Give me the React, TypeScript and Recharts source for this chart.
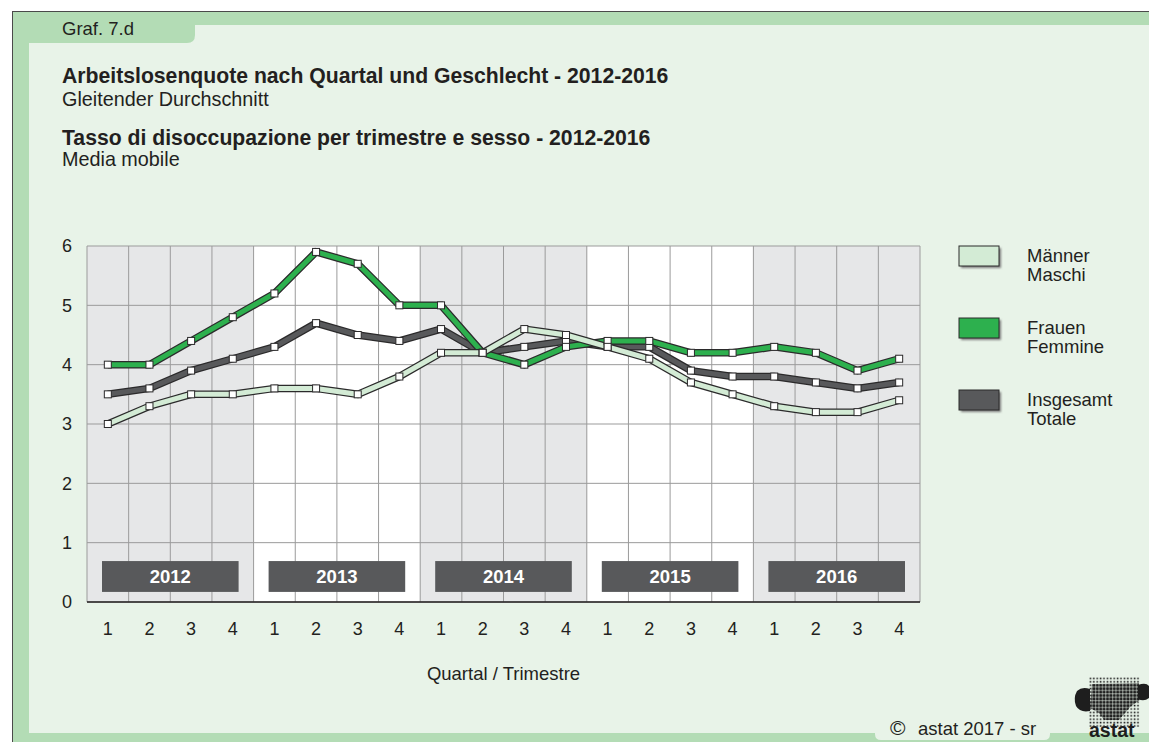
import React from 'react';
import { LineChart, Line, XAxis, YAxis, CartesianGrid, ReferenceArea, Legend } from 'recharts';

// ---------- data ----------
const quarterLabels = ['1', '2', '3', '4', '1', '2', '3', '4', '1', '2', '3', '4', '1', '2', '3', '4', '1', '2', '3', '4'];
const years = ['2012', '2013', '2014', '2015', '2016'];
const maenner = [3.0, 3.3, 3.5, 3.5, 3.6, 3.6, 3.5, 3.8, 4.2, 4.2, 4.6, 4.5, 4.3, 4.1, 3.7, 3.5, 3.3, 3.2, 3.2, 3.4];
const frauen = [4.0, 4.0, 4.4, 4.8, 5.2, 5.9, 5.7, 5.0, 5.0, 4.2, 4.0, 4.3, 4.4, 4.4, 4.2, 4.2, 4.3, 4.2, 3.9, 4.1];
const insgesamt = [3.5, 3.6, 3.9, 4.1, 4.3, 4.7, 4.5, 4.4, 4.6, 4.2, 4.3, 4.4, 4.3, 4.3, 3.9, 3.8, 3.8, 3.7, 3.6, 3.7];
const yTicks = [0, 1, 2, 3, 4, 5, 6];

const titleDe = 'Arbeitslosenquote nach Quartal und Geschlecht - 2012-2016';
const subtitleDe = 'Gleitender Durchschnitt';
const titleIt = 'Tasso di disoccupazione per trimestre e sesso - 2012-2016';
const subtitleIt = 'Media mobile';
const xAxisTitle = 'Quartal / Trimestre';

// ---------- styles ----------
const FONT = '"Liberation Sans", Arial, Helvetica, sans-serif';
const TEXT = '#231f20';
const OUTLINE = '#2b2a2b';
const GREEN_BAND = '#b3dcb5';
const PANEL = '#e8f3e8';
const GREY_STRIPE = '#e6e7e8';
const YEAR_BOX = '#58595b';

const series = [
  { key: 'insgesamt', name: 'Insgesamt / Totale', color: '#58595b' },
  { key: 'frauen', name: 'Frauen / Femmine', color: '#2db04e' },
  { key: 'maenner', name: 'Männer / Maschi', color: '#d3ebd5' },
];
const legendOrder = ['maenner', 'frauen', 'insgesamt'];

const data = quarterLabels.map((q, i) => ({
  idx: i + 1,
  quarter: q,
  maenner: maenner[i],
  frauen: frauen[i],
  insgesamt: insgesamt[i],
}));

const xTicks = data.map((d) => d.idx);
const boundaries = [0.5, ...data.map((d) => d.idx + 0.5)];
const stripeFills = quarterLabels.map((_, i) => (Math.floor(i / 4) % 2 === 0 ? GREY_STRIPE : '#ffffff'));

const squareDot = (seriesKey: string) => (p: any) => {
  if (p.cx == null || p.cy == null) return <g key={`${seriesKey}-e-${p.index}`} />;
  return (
    <rect
      key={`${seriesKey}-d-${p.index}`}
      x={p.cx - 3.5}
      y={p.cy - 3.5}
      width={7}
      height={7}
      fill="#ffffff"
      stroke={OUTLINE}
      strokeWidth={1}
    />
  );
};

const yearBox = (label: string) => (p: any) => (
  <g>
    <rect x={p.x + 15} y={p.y} width={p.width - 30} height={p.height} fill={YEAR_BOX} />
    <text
      x={p.x + p.width / 2}
      y={p.y + p.height / 2 + 6.5}
      textAnchor="middle"
      fill="#ffffff"
      fontWeight="bold"
      fontSize={18.5}
      fontFamily={FONT}
    >
      {label}
    </text>
  </g>
);

const renderLegend = (props: any) => {
  const payload = (props.payload || []).filter((e: any) => e.type !== 'none');
  const byKey: Record<string, any> = {};
  payload.forEach((e: any) => {
    byKey[e.dataKey] = e;
  });
  const items = legendOrder.map((k) => byKey[k]).filter(Boolean);
  return (
    <svg width={199} height={200} style={{ display: 'block' }}>
      <defs>
        <filter id="lgShadow" x="-20%" y="-20%" width="150%" height="160%">
          <feGaussianBlur stdDeviation="0.8" />
        </filter>
      </defs>
      {items.map((e: any, i: number) => {
        const lines = String(e.value).split(' / ');
        const by = 6 + i * 72;
        return (
          <g key={e.dataKey}>
            <rect x={11} y={by + 2} width={40} height={20} fill="#7d7d7d" filter="url(#lgShadow)" />
            <rect x={9} y={by} width={40} height={20} fill={e.color} stroke={OUTLINE} strokeWidth={1} />
            <text x={77} y={22 + i * 72} fontSize={18.5} fill={TEXT} fontFamily={FONT}>
              {lines[0]}
            </text>
            <text x={77} y={41 + i * 72} fontSize={18.5} fill={TEXT} fontFamily={FONT}>
              {lines[1]}
            </text>
          </g>
        );
      })}
    </svg>
  );
};

const Frame = () => (
  <svg width={1149} height={742} style={{ position: 'absolute', left: 0, top: 0 }}>
    <defs>
      <pattern id="dotsSmall" x="1089" y="677" width="3.4" height="3.4" patternUnits="userSpaceOnUse">
        <rect x="0.6" y="0.6" width="1.6" height="1.6" fill="#1e1e1e" />
      </pattern>
      <pattern id="dotsBig" x="1089" y="677" width="3.4" height="3.4" patternUnits="userSpaceOnUse">
        <rect x="0.2" y="0.2" width="2.8" height="2.8" fill="#1e1e1e" />
      </pattern>
    </defs>
    <rect x={0} y={0} width={1149} height={742} fill="#ffffff" />
    <rect x={12} y={11} width={1137} height={731} fill={GREEN_BAND} />
    <rect x={29} y={25} width={1120} height={708} fill={PANEL} />
    {/* tab with graph number */}
    <path d="M29,25 L195,25 L195,35 Q195,43 187,43 L29,43 Z" fill={GREEN_BAND} />
    {/* bottom copyright tab */}
    <path d="M875,732 L1050,732 L1050,734 Q1050,740 1044,740 L881,740 Q875,740 875,734 Z" fill={PANEL} />
    <line x1={12} y1={11.5} x2={1149} y2={11.5} stroke="#4a4a4a" strokeWidth={1} />
    <line x1={12.5} y1={11} x2={12.5} y2={742} stroke="#4a4a4a" strokeWidth={1} />

    <text x={62} y={35} fontSize={18.5} fill={TEXT} fontFamily={FONT}>Graf. 7.d</text>
    <text x={62} y={83} fontSize={21.2} fontWeight="bold" fill={TEXT} fontFamily={FONT}>{titleDe}</text>
    <text x={62} y={106} fontSize={19.8} fill={TEXT} fontFamily={FONT}>{subtitleDe}</text>
    <text x={62} y={144.5} fontSize={21.2} fontWeight="bold" fill={TEXT} fontFamily={FONT}>{titleIt}</text>
    <text x={62} y={166} fontSize={19.8} fill={TEXT} fontFamily={FONT}>{subtitleIt}</text>

    <text x={890} y={735} fontSize={21} fill={TEXT} fontFamily={FONT}>©</text>
    <text x={918} y={735} fontSize={18.5} fill={TEXT} fontFamily={FONT}>astat 2017 - sr</text>

    {/* astat logo (approximation) */}
    <rect x={1089} y={677} width={51} height={50} fill="url(#dotsSmall)" />
    <path
      d="M1092,684 L1139,683 L1140,700 L1131,706 L1125,713 L1119,720 L1104,720 L1099,713 L1090,708 Z"
      fill="url(#dotsBig)"
    />
    <path
      d="M1090,689 Q1082,686 1077,691 Q1073,698 1076,706 Q1080,713 1090,711 Z"
      fill="#1e1e1e"
    />
    <path
      d="M1138,685 Q1146,682 1149,686 L1149,698 Q1144,702 1138,699 Z"
      fill="#1e1e1e"
    />
    <text x={1089} y={737} fontSize={19.5} fontWeight="bold" fill="#1e1e1e" fontFamily={FONT}>astat</text>
  </svg>
);

export default function App() {
  return (
    <div
      style={{
        position: 'absolute',
        left: 0,
        top: 0,
        width: 1149,
        height: 742,
        overflow: 'hidden',
        background: '#ffffff',
        fontFamily: FONT,
      }}
    >
      <Frame />
      <div style={{ position: 'absolute', left: 0, top: 0 }}>
        <LineChart width={1149} height={742} data={data} margin={{ top: 246, right: 229, bottom: 50, left: 27 }}>
          <CartesianGrid
            stroke="#9b9b9b"
            strokeWidth={1}
            verticalValues={boundaries}
            verticalFill={stripeFills}
            fillOpacity={1}
          />
          <XAxis
            dataKey="idx"
            type="number"
            domain={[0.5, 20.5]}
            ticks={xTicks}
            interval={0}
            tickFormatter={(v: number) => quarterLabels[v - 1] ?? ''}
            tickLine={false}
            tickSize={0}
            tickMargin={20}
            axisLine={{ stroke: TEXT, strokeWidth: 1.5 }}
            height={90}
            tick={{ fill: TEXT, fontSize: 18, fontFamily: FONT }}
            label={{ value: xAxisTitle, position: 'insideBottom', offset: 12, fill: TEXT, fontSize: 18.5, fontFamily: FONT }}
          />
          <YAxis
            type="number"
            domain={[0, 6]}
            ticks={yTicks}
            interval={0}
            width={60}
            tickLine={false}
            axisLine={false}
            tickSize={0}
            tickMargin={15}
            tick={{ fill: TEXT, fontSize: 18, fontFamily: FONT }}
          />
          {years.map((y, k) => (
            <ReferenceArea
              key={`yr-${y}`}
              x1={k * 4 + 0.5}
              x2={k * 4 + 4.5}
              y1={0.17}
              y2={0.69}
              shape={yearBox(y)}
            />
          ))}
          <Legend
            layout="vertical"
            align="center"
            verticalAlign="middle"
            wrapperStyle={{ left: 950, top: 240, width: 199, height: 200 }}
            content={renderLegend}
          />
          {series.flatMap((s) => [
            <Line
              key={`${s.key}-outline`}
              type="linear"
              dataKey={s.key}
              stroke={OUTLINE}
              strokeWidth={7.5}
              dot={false}
              activeDot={false}
              legendType="none"
              isAnimationActive={false}
              strokeLinejoin="miter"
            />,
            <Line
              key={`${s.key}-fill`}
              type="linear"
              dataKey={s.key}
              name={s.name}
              stroke={s.color}
              strokeWidth={5}
              dot={squareDot(s.key)}
              activeDot={false}
              isAnimationActive={false}
              strokeLinejoin="miter"
            />,
          ])}
        </LineChart>
      </div>
    </div>
  );
}
